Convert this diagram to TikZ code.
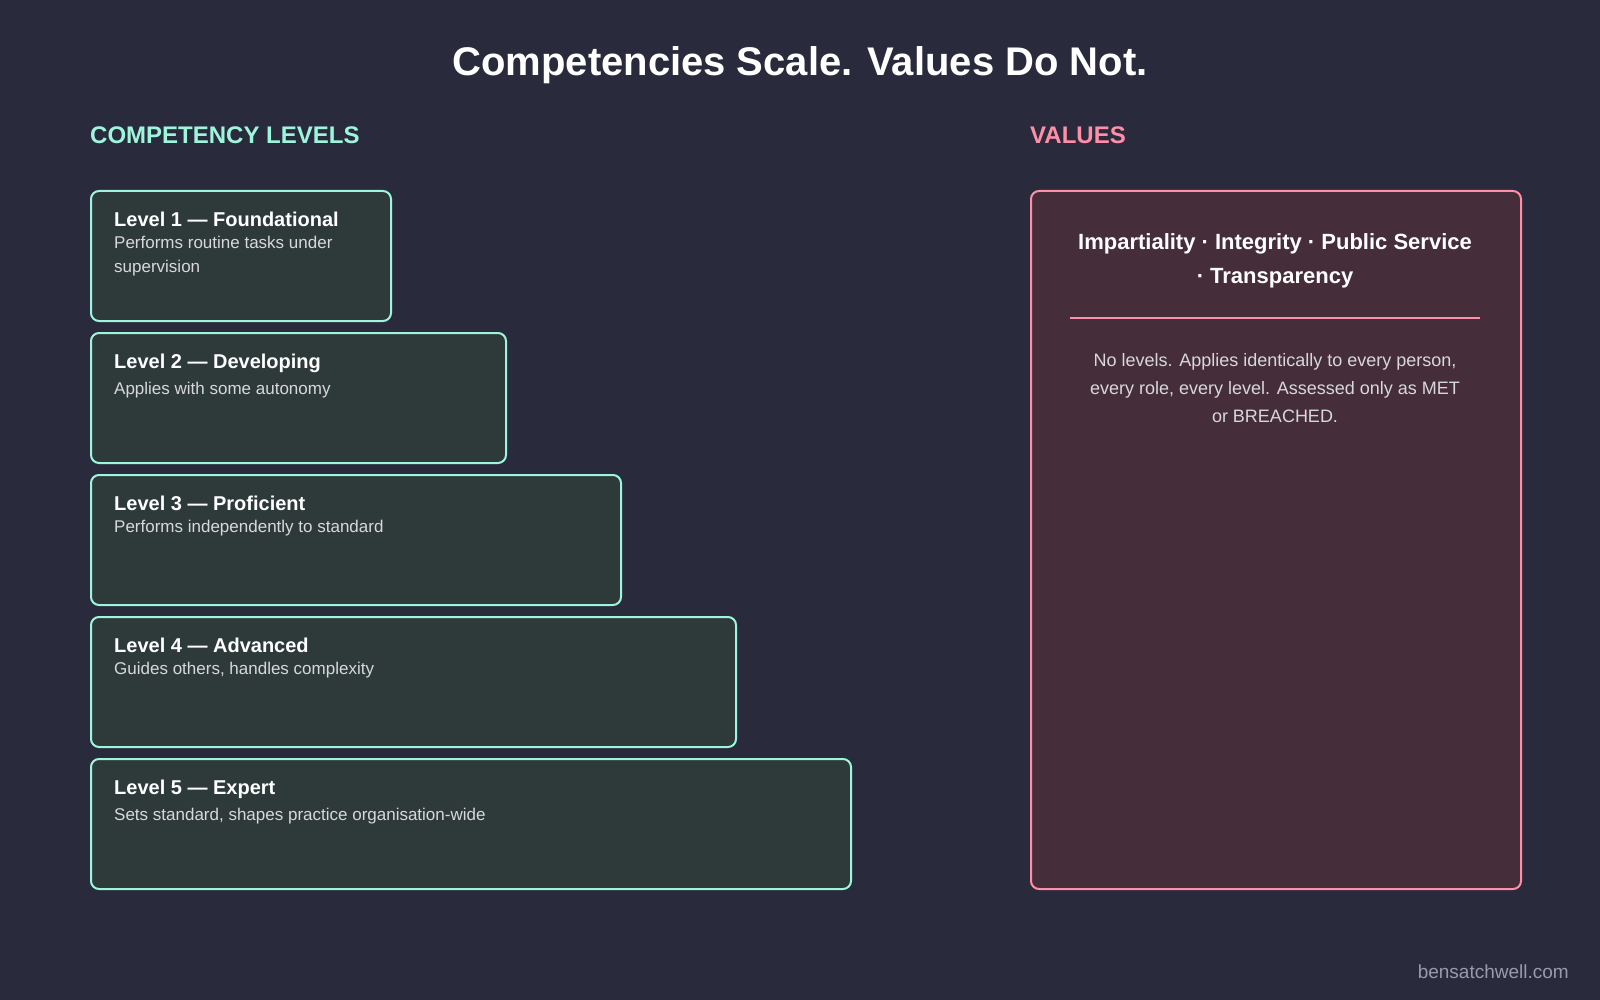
\documentclass[tikz,border=0pt]{standalone}
\usepackage{fontspec}
\setmainfont{Liberation Sans}
\usetikzlibrary{positioning}
\definecolor{bgdark}{HTML}{2A2A3D}
\definecolor{mint}{HTML}{9FF5DC}
\definecolor{levelfill}{HTML}{2E3A3A}
\definecolor{pink}{HTML}{FF8FA8}
\definecolor{valuefill}{HTML}{452D3A}
\definecolor{softtext}{HTML}{D8D8DC}
\definecolor{footgray}{HTML}{9A9AAA}
\tikzset{
  level/.style={draw=mint, fill=levelfill, line width=2pt, rounded corners=8pt,
    anchor=north west, minimum height=130pt, inner sep=0pt},
  leveltitle/.style={anchor=north west, inner sep=0pt, text=white, font=\fontsize{20}{24}\selectfont\bfseries},
  leveldesc/.style={anchor=north west, inner sep=0pt, text=softtext, align=left,
    font=\fontsize{17}{24}\selectfont},
}
\begin{document}
\begin{tikzpicture}[x=1pt, y=-1pt]
    \useasboundingbox[fill=bgdark] (0,0) rectangle (1600,1000);

    \node[text=white, font=\fontsize{40}{48}\selectfont\bfseries] (title) at (800, 65) {Competencies Scale. Values Do Not.};
    \node[anchor=west, inner sep=0pt, text=mint, font=\fontsize{24}{28}\selectfont\bfseries] (comphead) at (90, 135) {COMPETENCY LEVELS};
    \node[anchor=west, inner sep=0pt, text=pink, font=\fontsize{24}{28}\selectfont\bfseries] (valhead) at (1030, 135) {VALUES};

    \node[level, minimum width=300pt] (l1) at (90, 190) {};
    \node[level, minimum width=415pt] (l2) at (90, 332) {};
    \node[level, minimum width=530pt] (l3) at (90, 474) {};
    \node[level, minimum width=645pt] (l4) at (90, 616) {};
    \node[level, minimum width=760pt] (l5) at (90, 758) {};

    \node[leveltitle] (t1) at ([xshift=24pt, yshift=-22pt]l1.north west) {Level 1 — Foundational};
    \node[leveldesc, below=9pt of t1.south west, anchor=north west] (d1) {Performs routine tasks under\\supervision};
    \node[leveltitle] (t2) at ([xshift=24pt, yshift=-22pt]l2.north west) {Level 2 — Developing};
    \node[leveldesc, below=9pt of t2.south west, anchor=north west] (d2) {Applies with some autonomy};
    \node[leveltitle] (t3) at ([xshift=24pt, yshift=-22pt]l3.north west) {Level 3 — Proficient};
    \node[leveldesc, below=9pt of t3.south west, anchor=north west] (d3) {Performs independently to standard};
    \node[leveltitle] (t4) at ([xshift=24pt, yshift=-22pt]l4.north west) {Level 4 — Advanced};
    \node[leveldesc, below=9pt of t4.south west, anchor=north west] (d4) {Guides others, handles complexity};
    \node[leveltitle] (t5) at ([xshift=24pt, yshift=-22pt]l5.north west) {Level 5 — Expert};
    \node[leveldesc, below=9pt of t5.south west, anchor=north west] (d5) {Sets standard, shapes practice organisation-wide};

    \node[draw=pink, fill=valuefill, line width=2pt, rounded corners=8pt, anchor=north west,
      minimum width=490pt, minimum height=698pt, inner sep=0pt] (vbox) at (1030, 190) {};
    \node[text=white, align=center, font=\fontsize{22}{34}\selectfont\bfseries] (vnames) at (1275, 261) {Impartiality · Integrity · Public Service\\· Transparency};
    \coordinate (sepl) at (1070, 318);
    \coordinate (sepr) at (1480, 318);
    \draw[pink, line width=2.5pt] (sepl) -- (sepr);
    \node[text=softtext, align=center, font=\fontsize{18}{28}\selectfont] (vtext) at (1275, 388) {No levels. Applies identically to every person,\\every role, every level. Assessed only as MET\\or BREACHED.};

    \node[anchor=east, inner sep=0pt, text=footgray, font=\fontsize{19}{22}\selectfont] (foot) at (1569, 972) {bensatchwell.com};
\end{tikzpicture}
\end{document}
